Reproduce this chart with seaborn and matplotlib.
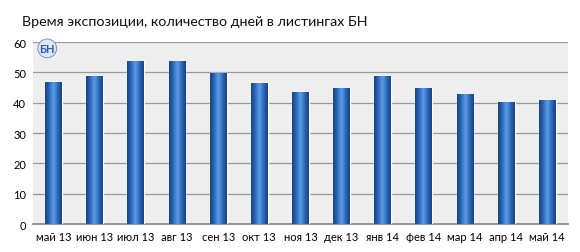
import matplotlib
matplotlib.use("Agg")
import matplotlib.pyplot as plt
import seaborn as sns
import numpy as np
import pandas as pd
from matplotlib.colors import LinearSegmentedColormap

months = ["май 13", "июн 13", "июл 13", "авг 13", "сен 13", "окт 13", "ноя 13",
          "дек 13", "янв 14", "фев 14", "мар 14", "апр 14", "май 14"]
days = [46.8, 48.9, 53.7, 53.9, 49.7, 46.5, 43.4, 44.8, 48.9, 44.8, 42.8, 40.2, 41.0]
yticks = [0, 10, 20, 30, 40, 50, 60]

sns.set_theme(style="white")
plt.rcParams['font.family'] = ['Lato', 'DejaVu Sans']

df = pd.DataFrame({"month": months, "days": days})

fig = plt.figure(figsize=(5.8, 2.53), dpi=100)
ax = fig.add_axes([0.057, 0.11, 0.922, 0.72])
ax.set_facecolor("#eeeeee")

sns.barplot(data=df, x="month", y="days", ax=ax, color="#2f6fc2", width=0.41,
            saturation=1, zorder=3)

cmap = LinearSegmentedColormap.from_list("cyl", ["#17437f", "#2c68bb", "#5c9ee8", "#2c68bb", "#17437f"])
grad = np.linspace(0, 1, 64).reshape(1, -1)
for p in ax.patches:
    x0, y0 = p.get_x(), p.get_y()
    w, h = p.get_width(), p.get_height()
    im = ax.imshow(grad, extent=[x0, x0 + w, y0, y0 + h], aspect="auto",
                   cmap=cmap, zorder=4, interpolation="bicubic")
    im.set_clip_path(p)

ax.set_xlim(-0.5, len(months) - 0.5)
ax.set_ylim(0, 60)
ax.set_yticks(yticks)
ax.yaxis.grid(True, color="#9a9a9a", linewidth=0.9, zorder=1)
ax.set_axisbelow(True)
for s in ["top", "right", "left"]:
    ax.spines[s].set_visible(False)
ax.spines["bottom"].set_color("#8a8a8a")
ax.set_xlabel("")
ax.set_ylabel("")
ax.tick_params(axis="both", labelsize=8, colors="#000000", length=0, pad=5)

fig.text(0.038, 0.915, "Время экспозиции, количество дней в листингах БН",
         fontsize=10.3, color="#111111", ha="left", va="center")
ax.text(0.012, 0.965, "БН", transform=ax.transAxes, fontsize=8, fontweight="bold",
        color="#2f5fb0", ha="left", va="center", zorder=6,
        bbox=dict(boxstyle="circle,pad=0.15", fc="#dfe6f5", ec="#6a86c4", lw=0.6))

fig.savefig("out.png", dpi=100)
